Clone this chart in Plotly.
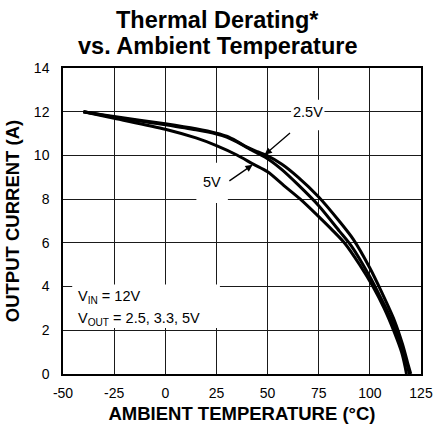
import plotly.graph_objects as go

# Derating curves: output current (A) vs ambient temperature (°C), VIN = 12V
temp_2v5 = [-40, -25, 0, 15, 25, 30, 35, 40, 45, 50, 57, 65, 75, 85, 92, 100, 106, 112, 116, 118.5, 120]
amps_2v5 = [12.0, 11.78, 11.45, 11.22, 11.02, 10.88, 10.65, 10.38, 10.17, 9.98, 9.6, 9.0, 8.1, 7.0, 6.15, 4.85, 3.7, 2.45, 1.35, 0.5, 0.0]

temp_3v3 = [-40, -25, 0, 15, 25, 30, 35, 40, 45, 50, 57, 65, 75, 85, 91, 100, 105, 111, 115, 118, 119.3]
amps_3v3 = [12.0, 11.75, 11.4, 11.17, 10.98, 10.84, 10.62, 10.35, 10.1, 9.85, 9.35, 8.65, 7.7, 6.55, 5.85, 4.45, 3.55, 2.4, 1.35, 0.5, 0.0]

temp_5v = [-40, -25, 0, 15, 25, 35, 43, 50, 58, 66, 75, 82, 88, 95, 101.5, 107, 112, 115.5, 117.2, 117.9]
amps_5v = [12.0, 11.7, 11.2, 10.8, 10.45, 10.02, 9.6, 9.25, 8.62, 8.0, 7.2, 6.55, 5.95, 5.0, 4.0, 3.0, 1.9, 1.0, 0.35, 0.0]

x_ticks = [-50, -25, 0, 25, 50, 75, 100, 125]
y_ticks = [0, 2, 4, 6, 8, 10, 12, 14]

FONT = "Liberation Sans, Arial, sans-serif"

fig = go.Figure()
for name, t, a in [("2.5V", temp_2v5, amps_2v5), ("3.3V", temp_3v3, amps_3v3), ("5V", temp_5v, amps_5v)]:
    fig.add_trace(go.Scatter(
        x=t, y=a, name=name, mode="lines",
        line=dict(color="black", width=3, shape="spline", smoothing=0.8),
        showlegend=False, hoverinfo="skip",
    ))

# white label backgrounds that interrupt the grid
fig.add_shape(type="rect", x0=-45.5, x1=26.7, y0=2.1, y1=4.1, xref="x", yref="y",
              fillcolor="white", line=dict(width=0), layer="between")
fig.add_shape(type="rect", x0=61.5, x1=77.8, y0=11.15, y1=12.55, xref="x", yref="y",
              fillcolor="white", line=dict(width=0), layer="between")
fig.add_shape(type="rect", x0=15.2, x1=30.6, y0=7.82, y1=9.66, xref="x", yref="y",
              fillcolor="white", line=dict(width=0), layer="between")

ann_font = dict(family=FONT, size=14.5, color="black")
fig.add_annotation(x=-43.8, y=3.54, xref="x", yref="y", xanchor="left", yanchor="middle",
                   text="V<sub>IN</sub> = 12V", showarrow=False, font=ann_font)
fig.add_annotation(x=-43.8, y=2.5, xref="x", yref="y", xanchor="left", yanchor="middle",
                   text="V<sub>OUT</sub> = 2.5, 3.3, 5V", showarrow=False, font=ann_font)
fig.add_annotation(x=69.6, y=11.98, xref="x", yref="y", text="2.5V", showarrow=False, font=ann_font)
fig.add_annotation(x=22.6, y=8.78, xref="x", yref="y", text="5V", showarrow=False, font=ann_font)

# pointer arrows
fig.add_annotation(x=48.6, y=10.03, ax=61.7, ay=11.08, xref="x", yref="y", axref="x", ayref="y",
                   text="", showarrow=True, arrowhead=2, arrowsize=1.1, arrowwidth=1.3, arrowcolor="black")
fig.add_annotation(x=42.7, y=9.57, ax=30.6, ay=8.79, xref="x", yref="y", axref="x", ayref="y",
                   text="", showarrow=True, arrowhead=2, arrowsize=1.1, arrowwidth=1.3, arrowcolor="black")

# plot area in page pixels: left edge, width, top edge, height
PLOT_L, PLOT_W, PLOT_T, PLOT_H = 63, 358, 68, 306
PLOT_B = PLOT_T + PLOT_H

# two-line bold title, centred on the page
title_x = (435 / 2 - PLOT_L) / PLOT_W
title_font = dict(family=FONT, size=23.5, color="black", weight="bold")
fig.add_annotation(x=title_x, y=(PLOT_B - 20) / PLOT_H, xref="paper", yref="paper", xanchor="center", yanchor="middle",
                   text="Thermal Derating*", showarrow=False, font=title_font)
fig.add_annotation(x=title_x, y=(PLOT_B - 46) / PLOT_H, xref="paper", yref="paper", xanchor="center", yanchor="middle",
                   text="vs. Ambient Temperature", showarrow=False, font=title_font)

axis_common = dict(
    showgrid=True, gridcolor="#1a1a1a", gridwidth=1,
    showline=True, linecolor="black", linewidth=1.5, mirror=True,
    zeroline=False, ticks="",
    tickfont=dict(family=FONT, size=14, color="black"),
)

fig.update_xaxes(
    range=[-50, 125], tickvals=x_ticks, ticktext=[str(v) for v in x_ticks],
    ticklabelstandoff=5,
    title=dict(text="AMBIENT TEMPERATURE (°C)", standoff=8,
               font=dict(family=FONT, size=18.5, color="black", weight="bold")),
    **axis_common,
)
fig.update_yaxes(
    range=[0, 14], tickvals=y_ticks, ticktext=[str(v) for v in y_ticks],
    ticklabelstandoff=9,
    title=dict(text="OUTPUT CURRENT (A)", standoff=9,
               font=dict(family=FONT, size=18.5, color="black", weight="bold")),
    **axis_common,
)

fig.update_layout(
    width=435, height=438,
    margin=dict(l=PLOT_L, r=435 - PLOT_L - PLOT_W, t=PLOT_T, b=438 - PLOT_B, autoexpand=False),
    paper_bgcolor="white", plot_bgcolor="white",
    font=dict(family=FONT, color="black"),
)

fig.write_html("out.html")
